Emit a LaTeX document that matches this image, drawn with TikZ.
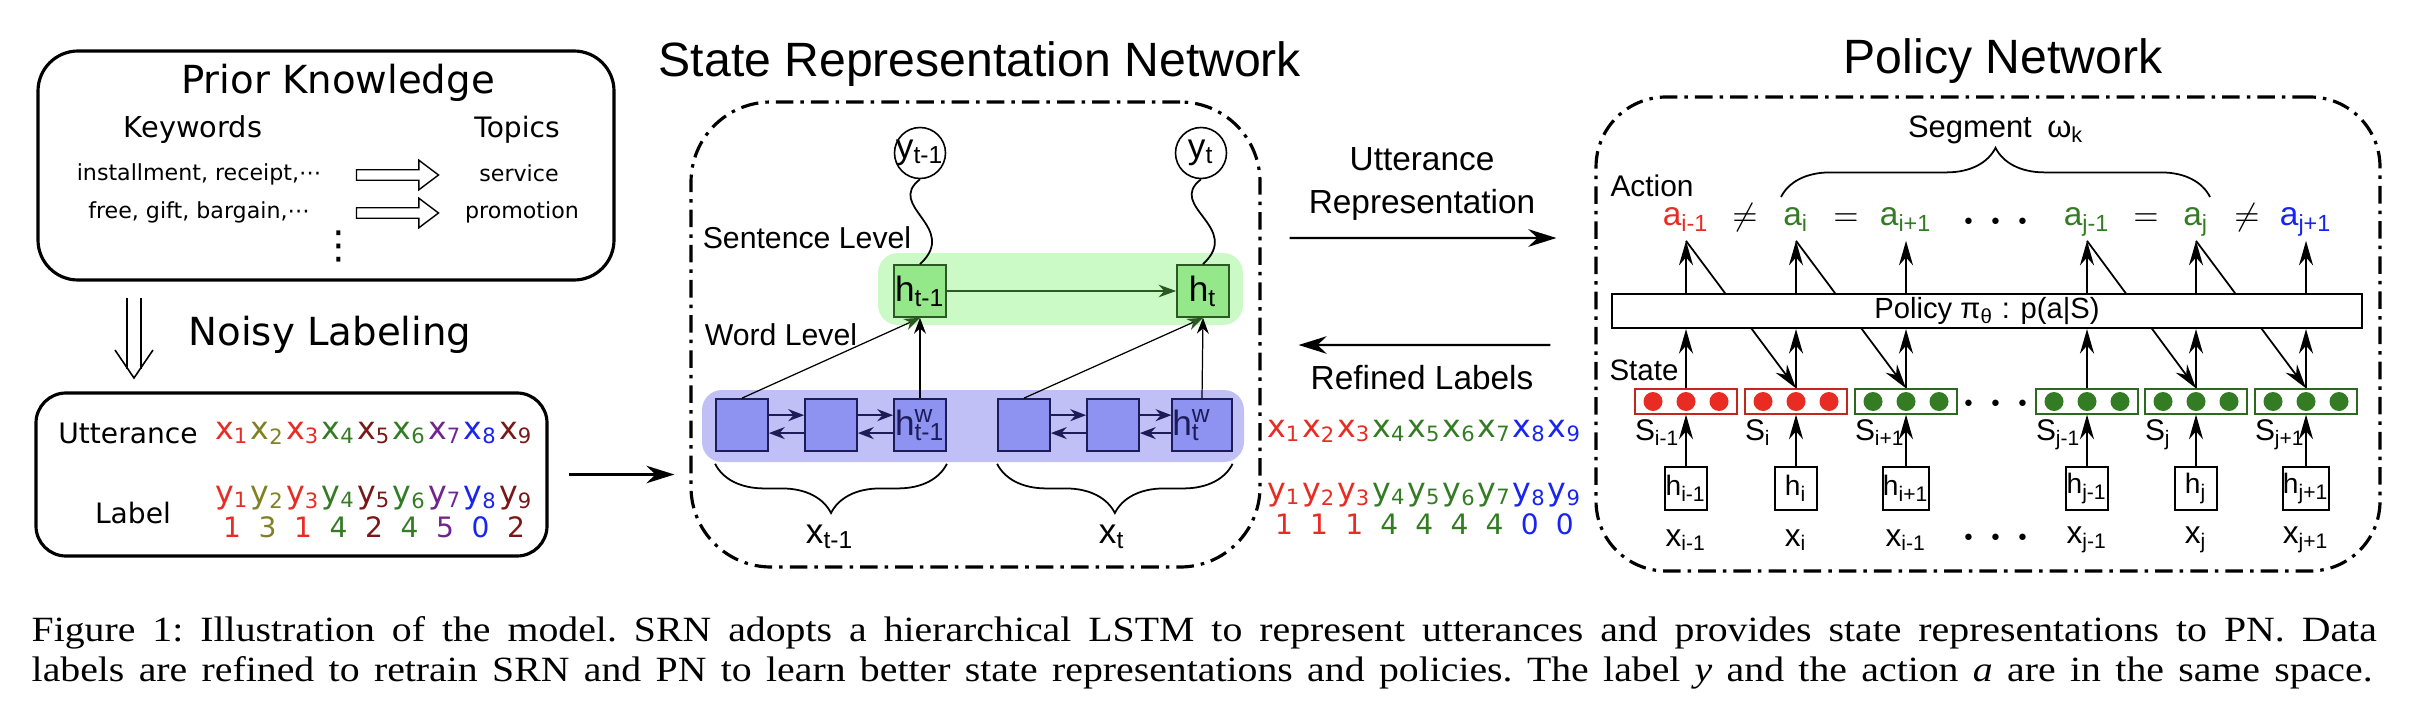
\documentclass[tikz,border=0pt]{standalone}
\usepackage{fontspec}
\setmainfont{Liberation Sans}
\newfontfamily\dejavu{DejaVu Sans}
\newfontfamily\capfont[FakeStretch=1.12]{Liberation Serif}
\usetikzlibrary{arrows.meta,shapes.arrows,decorations.pathreplacing,calc}

\definecolor{lblred}{RGB}{232,44,36}
\definecolor{lblolive}{RGB}{128,128,36}
\definecolor{lblgreen}{RGB}{52,124,36}
\definecolor{lblmaroon}{RGB}{122,24,24}
\definecolor{lblpurple}{RGB}{112,36,140}
\definecolor{lblblue}{RGB}{24,36,240}
\definecolor{sentband}{RGB}{204,250,198}
\definecolor{sentbox}{RGB}{148,232,138}
\definecolor{sentedge}{RGB}{44,88,36}
\definecolor{wordband}{RGB}{192,192,246}
\definecolor{wordbox}{RGB}{142,146,240}
\definecolor{wordedge}{RGB}{28,28,88}

\newcommand{\setfs}[1]{\fontsize{#1}{#1}\selectfont}
\newcommand{\sbs}[1]{\textsubscript{#1}}

\tikzset{
  nettitle/.style={font=\setfs{13.7}},
  lefttxt/.style={font=\dejavu\setfs{#1}},
  dashdot/.style={line width=0.9pt, dash pattern=on 5pt off 2pt on 1pt off 2pt},
  mainarrow/.style={-{Stealth[length=8pt,width=5pt]}, line width=0.6pt},
  pnarrow/.style={-{Stealth[length=7pt,width=4pt]}, line width=0.5pt},
  warrow/.style={-{Stealth[length=4.5pt,width=3.4pt]}, draw=wordedge, line width=0.6pt},
  uparrow/.style={-{Stealth[length=4.5pt,width=3.4pt]}, line width=0.35pt},
  brc/.style={decorate, decoration={brace, amplitude=#1}, line width=0.5pt},
  maparrow/.style={draw, single arrow, line width=0.4pt, minimum height=8.2mm,
    inner xsep=0pt, inner ysep=1.3pt, single arrow head extend=2.7pt,
    single arrow tip angle=74, single arrow head indent=0pt},
  sbox/.style={draw=sentedge, fill=sentbox, line width=0.5pt, minimum size=5.2mm, font=\setfs{10}},
  wbox/.style={draw=wordedge, fill=wordbox, line width=0.5pt, minimum size=5.2mm, font=\setfs{10}, text=wordedge},
  act/.style={font=\setfs{9.5}, anchor=base, text depth=4.3pt}
}

\begin{document}
\begin{tikzpicture}[x=0.1mm,y=-0.1mm,every node/.style={inner sep=0pt}]
\useasboundingbox (0,0) rectangle (2420,718);

% prior knowledge
\node[draw, line width=0.9pt, rounded corners=4mm, minimum width=57.6mm, minimum height=22.9mm] (pk) at (326,165.5) {};
\node[lefttxt=11] (pktitle) at (338,83) {Prior Knowledge};
\node[lefttxt=8.2] (kw) at (193,130) {Keywords};
\node[lefttxt=8] (tp) at (517,130) {Topics};
\node[lefttxt=6.3] (kw1) at (199,174) {installment, receipt,⋯};
\node[lefttxt=6.3] (kw2) at (199,212) {free, gift, bargain,⋯};
\node[lefttxt=6.3] (tp1) at (519,173) {service};
\node[lefttxt=6.3] (tp2) at (522,212) {promotion};
\node[maparrow] (ar1) at (394,175) {};
\node[maparrow] (ar2) at (394,213) {};
\node[lefttxt=11] (vd) at (339,246) {⋮};

% noisy labeling
\coordinate (nltop) at (134,298);
\coordinate (nltip) at (134,378);
\draw[double, double distance=3.4pt, line width=0.45pt] (nltop) -- ($(nltip)+(0,-9)$);
\draw[line width=0.45pt] ($(nltip)+(-19,-28)$) -- (nltip) -- ($(nltip)+(19,-28)$);
\node[lefttxt=11] (nl) at (330,335) {Noisy Labeling};

% utterances with noisy labels
\node[draw, line width=0.9pt, rounded corners=3mm, minimum width=51.1mm, minimum height=16.3mm] (utt) at (291.5,474.5) {};
\node[lefttxt=8] (uttname) at (128,433) {Utterance};
\node[lefttxt=8] (lblname) at (133,513) {Label};
\foreach \c/\n [count=\i] in {lblred/1,lblolive/3,lblred/1,lblgreen/4,lblmaroon/2,lblgreen/4,lblpurple/5,lblblue/0,lblmaroon/2}{
  \node[lefttxt=9, text=\c] (nx\i) at ({232+35.5*(\i-1)},433) {x\sbs{\i}};
  \node[lefttxt=9, text=\c] (ny\i) at ({232+35.5*(\i-1)},498) {y\sbs{\i}};
  \node[lefttxt=8, text=\c] (nv\i) at ({232+35.5*(\i-1)},527) {\n};
}

% state representation network
\node[nettitle] (srntitle) at (980,64) {State Representation Network};
\node[draw, dashdot, rounded corners=8mm, minimum width=56.9mm, minimum height=46.5mm] (srn) at (975.5,334.5) {};
\fill[sentband, rounded corners=2mm] (878,253) rectangle (1243,325);
\fill[wordband, rounded corners=2mm] (702,390) rectangle (1244,462);
\node[font=\setfs{8.6}] (sl) at (807,238) {Sentence Level};
\node[font=\setfs{8.6}] (wl) at (781,335) {Word Level};

\node[sbox] (hs1) at (920,291) {h\sbs{t-1}};
\node[sbox] (hs2) at (1203,291) {h\sbs{t}};
\node[draw, circle, line width=0.45pt, minimum size=5.1mm, label={[font=\setfs{10}]center:y\sbs{t-1}}] (yo1) at (920,153) {};
\node[draw, circle, line width=0.45pt, minimum size=5.1mm, label={[font=\setfs{10}]center:y\sbs{t}}] (yo2) at (1201,153) {};
\draw[line width=0.5pt] (yo1.south) .. controls +(-35,27) and +(40,-37) .. (hs1.north);
\draw[line width=0.5pt] (yo2.south) .. controls +(-35,27) and +(40,-37) .. (hs2.north);
\draw[-{Stealth[length=5pt,width=3.6pt]}, draw=sentedge, line width=0.45pt] (hs1) -- (hs2);

\node[wbox] (w1) at (742,425) {};
\node[wbox] (w2) at (831,425) {};
\node[wbox] (w3) at (920,425) {h\rlap{\textsuperscript{w}}\sbs{t-1}};
\node[wbox] (w4) at (1024,425) {};
\node[wbox] (w5) at (1113,425) {};
\node[wbox] (w6) at (1202,425) {h\rlap{\textsuperscript{w}}\sbs{t}\hphantom{-1}};
\foreach \a/\b in {1/2,2/3,4/5,5/6}{
  \draw[warrow] ([yshift=2.8pt]w\a.east) -- ([yshift=2.8pt]w\b.west);
  \draw[warrow] ([yshift=-2.3pt]w\b.west) -- ([yshift=-2.3pt]w\a.east);
}
\draw[uparrow, -{Stealth[length=4.5pt,width=3.4pt,color=sentedge]}] (w1.north) -- (hs1.south);
\draw[uparrow] (w3.north) -- (hs1.south);
\draw[uparrow, -{Stealth[length=4.5pt,width=3.4pt,color=sentedge]}] (w4.north) -- (hs2.south);
\draw[uparrow] (w6.north) -- (hs2.south);

\draw[brc=14pt] ([yshift=-3.4pt]w3.south east) -- ([yshift=-3.4pt]w1.south west);
\draw[brc=14pt] ([yshift=-3.4pt]w6.south east) -- ([yshift=-3.4pt]w4.south west);
\node[font=\setfs{10}] (xt1) at (830,537) {x\sbs{t-1}};
\node[font=\setfs{10}] (xt2) at (1112,537) {x\sbs{t}};

% policy network box
\node[nettitle] (pntitle) at (2003,61) {Policy Network};
\node[draw, dashdot, rounded corners=7mm, minimum width=78.4mm, minimum height=47.4mm] (pn) at (1988,334) {};

% between the two networks
\node[font=\fontsize{9.5}{12.2}\selectfont, align=center] (urtxt) at (1422,184) {Utterance\\Representation};
\draw[mainarrow, shorten <=2.8mm, shorten >=3.8mm] ([yshift=9.65mm]srn.east) -- ([yshift=9.6mm]pn.west);
\draw[mainarrow, shorten <=4.4mm, shorten >=3.7mm] ([yshift=-1.1mm]pn.west) -- ([yshift=-1.05mm]srn.east);
\node[font=\setfs{9.5}] (rl) at (1422,378) {Refined Labels};
\foreach \c/\n [count=\i] in {lblred/1,lblred/1,lblred/1,lblgreen/4,lblgreen/4,lblgreen/4,lblgreen/4,lblblue/0,lblblue/0}{
  \node[lefttxt=9, text=\c] (rx\i) at ({1284+35.1*(\i-1)},431) {x\sbs{\i}};
  \node[lefttxt=9, text=\c] (ry\i) at ({1284+35.1*(\i-1)},495) {y\sbs{\i}};
  \node[lefttxt=8, text=\c] (rv\i) at ({1284+35.1*(\i-1)},524) {\n};
}
\draw[mainarrow, shorten <=2mm, shorten >=1.5mm] (utt.east) -- (utt.east -| srn.west);

% policy network
\node[font=\setfs{8.8}] (seg) at (1996,130) {Segment\hspace{0.5em}ω\sbs{k}};
\draw[brc=14pt] (1781,197) -- (2210,197);
\node[font=\setfs{8.5}] (acl) at (1652,186) {Action};
\node[act, text=lblred] (a1) at (1686,225) {a\sbs{i-1}};
\node[act] (ne1) at (1745,225) {$\neq$};
\node[act, text=lblgreen] (a2) at (1796,225) {a\sbs{i}};
\node[act] (eq1) at (1846,225) {$=$};
\node[act, text=lblgreen] (a3) at (1906,225) {a\sbs{i+1}};
\node[anchor=base, font=\setfs{16}] (adots) at (1996,236) {$\cdots$};
\node[act, text=lblgreen] (a4) at (2087,225) {a\sbs{j-1}};
\node[act] (eq2) at (2146,225) {$=$};
\node[act, text=lblgreen] (a5) at (2196,225) {a\sbs{j}};
\node[act] (ne2) at (2247,225) {$\neq$};
\node[act, text=lblblue] (a6) at (2306,225) {a\sbs{j+1}};
\node[font=\setfs{8.4}] (stl) at (1644,370) {State};

\foreach \n/\xx/\c/\ss/\xs in {1/1686/lblred/i-1/i-1, 2/1796/lblred/i/i, 3/1906/lblgreen/i+1/i-1, 4/2087/lblgreen/j-1/j-1, 5/2196/lblgreen/j/j, 6/2306/lblgreen/j+1/j+1}{
  \node[draw=\c!85!black, line width=0.4pt, minimum width=10.2mm, minimum height=2.5mm] (s\n) at (\xx,401.5) {};
  \foreach \d in {-33,0,33} \fill[\c] ($(s\n.center)+(\d,0)$) circle (0.95mm);
  \node[anchor=north west, font=\setfs{8.5}] (sn\n) at ([yshift=-0.4mm]s\n.south west) {S\sbs{\ss}};
  \node[draw, line width=0.5pt, minimum width=4.2mm, minimum height=4.3mm, font=\setfs{8}] (hb\n) at (\xx,488.5) {h\sbs{\ss}};
  \node[font=\setfs{9}] (xl\n) at (\xx,540) {x\sbs{\xs}};
  \draw[pnarrow] (hb\n.north) -- (s\n.south);
}
\node[anchor=base, font=\setfs{16}] (sdots) at (1996,418) {$\cdots$};
\node[anchor=base, font=\setfs{16}] (xdots) at (1996,552) {$\cdots$};

\draw[pnarrow] (a1.south) -- (s2.north);
\draw[pnarrow] (a2.south) -- (s3.north);
\draw[pnarrow] (a4.south) -- (s5.north);
\draw[pnarrow] (a5.south) -- (s6.north);

\node[draw, fill=white, line width=0.6pt, minimum width=75mm, minimum height=3.4mm, font=\setfs{8.3}] (bar) at (1987,311) {Policy π\sbs{θ} : p(a|S)};
\foreach \n in {1,...,6}{
  \draw[pnarrow] (s\n.north) -- (s\n.north |- bar.south);
  \draw[pnarrow] (a\n.south |- bar.north) -- (a\n.south);
}

% caption
\node[anchor=west, font=\capfont\setfs{10.1}\frenchspacing] (cap1) at (31,633) {\makebox[234.5mm][s]{Figure 1: Illustration of the model. SRN adopts a hierarchical LSTM to represent utterances and provides state representations to PN. Data}};
\node[anchor=west, font=\capfont\setfs{10.1}\frenchspacing] (cap2) at (31,673) {\makebox[234.1mm][s]{labels are refined to retrain SRN and PN to learn better state representations and policies. The label \textit{y} and the action \textit{a} are in the same space.}};
\end{tikzpicture}
\end{document}
